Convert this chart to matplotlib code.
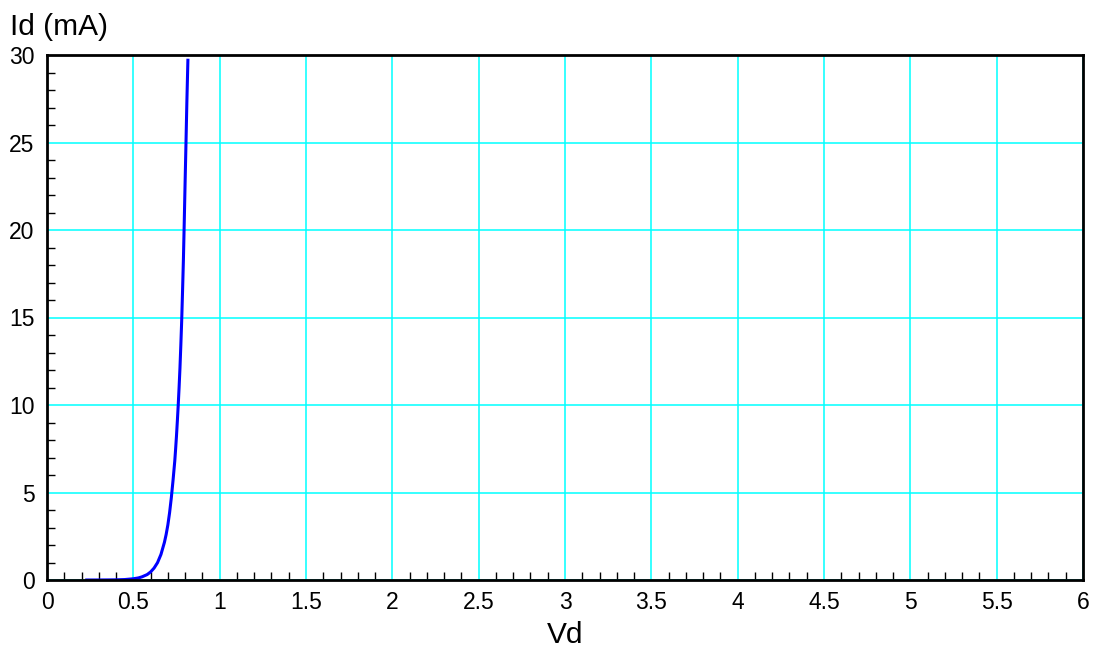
import matplotlib.pyplot as plt
from matplotlib.ticker import MultipleLocator

# diode forward characteristic
vd = [0.23, 0.30, 0.35, 0.40, 0.45, 0.50, 0.53, 0.55, 0.58, 0.60, 0.62, 0.64,
      0.66, 0.68, 0.69, 0.70, 0.71, 0.72, 0.73, 0.74, 0.745, 0.75, 0.755, 0.76,
      0.765, 0.77, 0.775, 0.78, 0.785, 0.79, 0.795, 0.80, 0.805, 0.81, 0.816]
id_ma = [0.0, 0.001, 0.004, 0.01, 0.026, 0.07, 0.12, 0.18, 0.31, 0.46, 0.68, 0.99,
         1.46, 2.15, 2.6, 3.15, 3.85, 4.7, 5.7, 6.8, 7.5, 8.25, 9.1, 10.0,
         11.0, 12.1, 13.4, 14.8, 16.5, 18.3, 20.5, 22.8, 25.0, 27.3, 29.7]

x_ticks = [0, 0.5, 1, 1.5, 2, 2.5, 3, 3.5, 4, 4.5, 5, 5.5, 6]
x_labels = ['0', '0.5', '1', '1.5', '2', '2.5', '3', '3.5', '4', '4.5', '5', '5.5', '6']
y_ticks = [0, 5, 10, 15, 20, 25, 30]

plt.rcParams['font.family'] = ['Liberation Sans', 'DejaVu Sans']

fig = plt.figure(figsize=(10.95, 6.52), dpi=100)
ax = fig.add_axes([47 / 1095, 72 / 652, 1036 / 1095, 525 / 652])

ax.grid(True, color='#00ffff', linewidth=1.1, zorder=0)
ax.plot(vd, id_ma, color='#0000ff', linewidth=2.2, zorder=3)

ax.set_xlim(0, 6)
ax.set_ylim(0, 30)
ax.set_xticks(x_ticks)
ax.set_xticklabels(x_labels)
ax.set_yticks(y_ticks)
ax.xaxis.set_minor_locator(MultipleLocator(0.1))
ax.yaxis.set_minor_locator(MultipleLocator(1))
ax.tick_params(which='major', length=0, labelsize=16.5, pad=8)
ax.tick_params(axis='y', which='major', pad=9)
ax.tick_params(which='minor', direction='in', length=6, width=1, color='black')

for s in ax.spines.values():
    s.set_linewidth(2)
    s.set_zorder(4)

fig.text(10 / 1095, 1 - 35 / 652, 'Id (mA)', fontsize=21.5, va='baseline')
fig.text(565 / 1095, 9 / 652, 'Vd', fontsize=21.5, ha='center', va='baseline')

fig.savefig('out.png', dpi=100)
